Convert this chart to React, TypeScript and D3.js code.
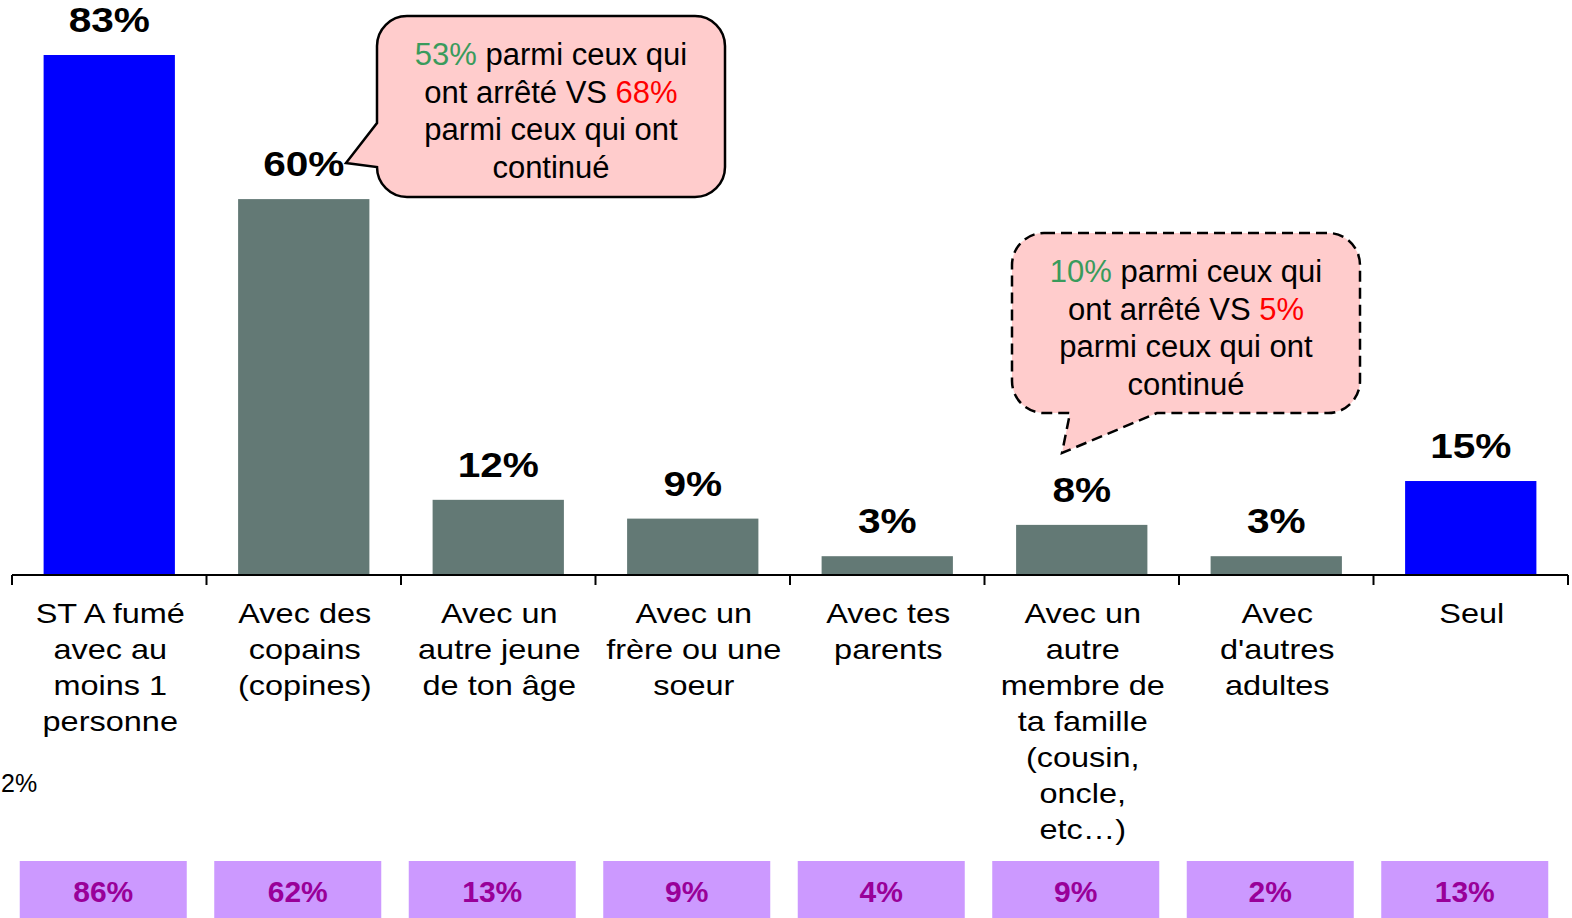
import React from 'react';
import * as d3 from 'd3';

// categories (one array of lines per label)
const categories = [
  ['ST A fumé', 'avec au', 'moins 1', 'personne'],
  ['Avec des', 'copains', '(copines)'],
  ['Avec un', 'autre jeune', 'de ton âge'],
  ['Avec un', 'frère ou une', 'soeur'],
  ['Avec tes', 'parents'],
  ['Avec un', 'autre', 'membre de', 'ta famille', '(cousin,', 'oncle,', 'etc…)'],
  ['Avec', "d'autres", 'adultes'],
  ['Seul'],
];

const values = [83, 60, 12, 9, 3, 8, 3, 15];
const compareValues = [86, 62, 13, 9, 4, 9, 2, 13];
const totalIndexes = [0, 7];

const callout1 = [
  [{ t: '53%', c: 'green' }, { t: ' parmi ceux qui', c: 'black' }],
  [{ t: 'ont arrêté VS ', c: 'black' }, { t: '68%', c: 'red' }],
  [{ t: 'parmi ceux qui ont', c: 'black' }],
  [{ t: 'continué', c: 'black' }],
];
const callout2 = [
  [{ t: '10%', c: 'green' }, { t: ' parmi ceux qui', c: 'black' }],
  [{ t: 'ont arrêté VS ', c: 'black' }, { t: '5%', c: 'red' }],
  [{ t: 'parmi ceux qui ont', c: 'black' }],
  [{ t: 'continué', c: 'black' }],
];

const W = 1572;
const H = 918;
const FONT = "'Liberation Sans', Arial, sans-serif";
const COLORS = { green: '#3a9b5c', red: '#ff0000', black: '#000000' };
const STRETCH = 1.16; // chart texts look stretched horizontally

const x = d3
  .scaleBand<number>()
  .domain(d3.range(categories.length))
  .range([12, 1568])
  .paddingInner(0.325)
  .paddingOuter(0.1625);

const y = d3.scaleLinear().domain([0, 83]).range([575, 55]);

const bandCenter = (i: number) => (x(i) as number) + x.bandwidth() / 2;

// rounded box, tail on the left side
const leftTailPath = (bx, by, w, h, r, ty1, tip, ty2) =>
  `M${bx + r},${by} H${bx + w - r} A${r},${r} 0 0 1 ${bx + w},${by + r} V${by + h - r} ` +
  `A${r},${r} 0 0 1 ${bx + w - r},${by + h} H${bx + r} A${r},${r} 0 0 1 ${bx},${by + h - r} ` +
  `L${bx},${ty2} L${tip[0]},${tip[1]} L${bx},${ty1} V${by + r} A${r},${r} 0 0 1 ${bx + r},${by} Z`;

// rounded box, tail on the bottom side
const bottomTailPath = (bx, by, w, h, r, tx1, tip, tx2) =>
  `M${bx + r},${by} H${bx + w - r} A${r},${r} 0 0 1 ${bx + w},${by + r} V${by + h - r} ` +
  `A${r},${r} 0 0 1 ${bx + w - r},${by + h} H${tx2} L${tip[0]},${tip[1]} L${tx1},${by + h} ` +
  `H${bx + r} A${r},${r} 0 0 1 ${bx},${by + h - r} V${by + r} A${r},${r} 0 0 1 ${bx + r},${by} Z`;

const CalloutText = ({ lines, cx, y0, step }) => (
  <g fontFamily={FONT} fontSize={31} textAnchor="middle">
    {lines.map((segs, i) => (
      <text key={i} x={cx} y={y0 + i * step}>
        {segs.map((s, j) => (
          <tspan key={j} fill={COLORS[s.c]}>
            {s.t}
          </tspan>
        ))}
      </text>
    ))}
  </g>
);

export default function App() {
  const ticks = [
    ...d3.range(categories.length).map((i) => (x(i) as number) - (x.step() * x.paddingInner()) / 2),
    1568,
  ];

  return (
    <svg width={W} height={H} style={{ position: 'absolute', left: 0, top: 0, background: '#fff' }}>
      {/* bars */}
      {values.map((v, i) => (
        <rect
          key={i}
          x={x(i)}
          y={y(v)}
          width={x.bandwidth()}
          height={y(0) - y(v)}
          fill={totalIndexes.includes(i) ? '#0000ff' : '#637975'}
        />
      ))}

      {/* value labels */}
      {values.map((v, i) => (
        <text
          key={i}
          transform={`translate(${bandCenter(i)},${y(v) - 23}) scale(${STRETCH},1)`}
          textAnchor="middle"
          fontFamily={FONT}
          fontWeight="bold"
          fontSize={35}
        >
          {v}%
        </text>
      ))}

      {/* axis */}
      <line x1={12} x2={1568} y1={y(0)} y2={y(0)} stroke="#000" strokeWidth={2} />
      {ticks.map((t, i) => (
        <line key={i} x1={t} x2={t} y1={y(0)} y2={y(0) + 10} stroke="#000" strokeWidth={2} />
      ))}

      {/* category labels */}
      {categories.map((lines, i) => (
        <text
          key={i}
          transform={`translate(${bandCenter(i) + 1},0) scale(${STRETCH},1)`}
          textAnchor="middle"
          fontFamily={FONT}
          fontSize={28}
          fill="#000"
        >
          {lines.map((l, j) => (
            <tspan key={j} x={0} y={623 + j * 36}>
              {l}
            </tspan>
          ))}
        </text>
      ))}

      <text x={1} y={792} fontFamily={FONT} fontSize={25}>
        2%
      </text>

      {/* comparison boxes */}
      {compareValues.map((v, i) => (
        <g key={i}>
          <rect x={bandCenter(i) - 6 - 83.5} y={861} width={167} height={60} fill="#cc99ff" />
          <text
            x={bandCenter(i) - 6}
            y={902}
            textAnchor="middle"
            fontFamily={FONT}
            fontWeight="bold"
            fontSize={30}
            fill="#990099"
          >
            {v}%
          </text>
        </g>
      ))}

      {/* callouts */}
      <path
        d={leftTailPath(377, 16, 348, 181, 30, 123, [346, 163], 167)}
        fill="#ffcccc"
        stroke="#000"
        strokeWidth={2.5}
      />
      <CalloutText lines={callout1} cx={551} y0={65} step={37.5} />

      <path
        d={bottomTailPath(1012, 233, 348, 180, 32, 1070, [1062, 453], 1157)}
        fill="#ffcccc"
        stroke="#000"
        strokeWidth={2.5}
        strokeDasharray="11 6"
      />
      <CalloutText lines={callout2} cx={1186} y0={282} step={37.7} />
    </svg>
  );
}
